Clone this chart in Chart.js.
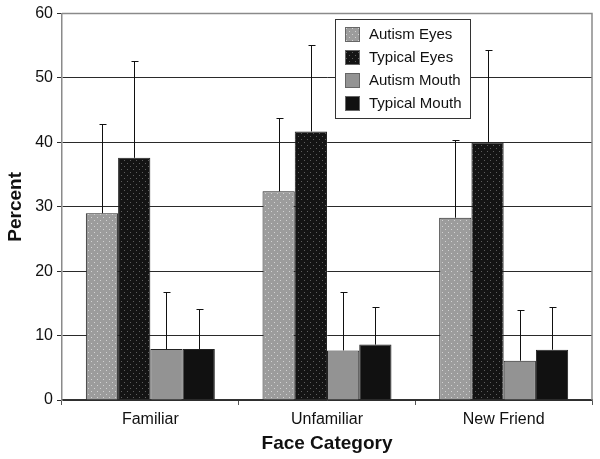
<!DOCTYPE html>
<html>
<head>
<meta charset="utf-8">
<script src="https://cdn.jsdelivr.net/npm/chart.js@4.4.0/dist/chart.umd.min.js"></script>
<style>
  html, body { margin: 0; padding: 0; background: #fff; }
  #wrap { width: 600px; height: 459px; }
</style>
</head>
<body>
<div id="wrap"><canvas id="myChart" width="600" height="459"></canvas></div>
<script>
// data
const categories = ['Familiar', 'Unfamiliar', 'New Friend'];
const seriesNames = ['Autism Eyes', 'Typical Eyes', 'Autism Mouth', 'Typical Mouth'];
const autismEyes = [29.0, 32.4, 28.3];
const typicalEyes = [37.6, 41.7, 40.0];
const autismMouth = [7.9, 7.7, 6.1];
const typicalMouth = [7.9, 8.6, 7.8];
// upper error (SD) for each bar
const autismEyesErr = [13.8, 11.4, 12.1];
const typicalEyesErr = [15.1, 13.5, 14.3];
const autismMouthErr = [8.9, 9.1, 7.8];
const typicalMouthErr = [6.3, 5.9, 6.7];

const FONT = "'Liberation Sans', Arial, sans-serif";

// small dotted fills like the print
function dots(base, dot) {
    const c = document.createElement('canvas');
    c.width = 6; c.height = 6;
    const g = c.getContext('2d');
    g.fillStyle = base;
    g.fillRect(0, 0, 6, 6);
    g.fillStyle = dot;
    g.fillRect(1, 1, 1, 1);
    g.fillRect(4, 4, 1, 1);
    return g.createPattern(c, 'repeat');
}
const ctx = document.getElementById('myChart').getContext('2d');
const fills = [
    dots('#9c9c9c', '#d2d2d2'),
    dots('#141414', '#5e5e5e'),
    '#939393',
    '#111111'
];

const values = [autismEyes, typicalEyes, autismMouth, typicalMouth];
const errs = [autismEyesErr, typicalEyesErr, autismMouthErr, typicalMouthErr];

// error bars, upper side only
const errorBars = {
    id: 'errorBars',
    afterDatasetsDraw(chart) {
        const g = chart.ctx;
        const y = chart.scales.y;
        g.save();
        g.strokeStyle = '#111';
        g.lineWidth = 1;
        chart.data.datasets.forEach((ds, i) => {
            const meta = chart.getDatasetMeta(i);
            meta.data.forEach((bar, j) => {
                const top = Math.round(y.getPixelForValue(ds.data[j] + ds.err[j])) + 0.5;
                const x = Math.round(bar.x) + 0.5;
                g.beginPath();
                g.moveTo(x, bar.y);
                g.lineTo(x, top);
                g.moveTo(x - 3, top);
                g.lineTo(x + 4, top);
                g.stroke();
            });
        });
        g.restore();
    }
};

// boxed legend sitting inside the plot
const boxLegend = {
    id: 'boxLegend',
    afterDraw(chart) {
        const g = chart.ctx;
        const left = 335.5, top = 19.5, w = 135, h = 99;
        g.save();
        g.fillStyle = '#fff';
        g.fillRect(left, top, w, h);
        g.strokeStyle = '#333';
        g.lineWidth = 1;
        g.strokeRect(left, top, w, h);
        g.font = '15px ' + FONT;
        g.textBaseline = 'middle';
        chart.data.datasets.forEach((ds, i) => {
            const cy = 34 + i * 23;
            g.fillStyle = ds.backgroundColor;
            g.fillRect(345, cy - 7, 15, 15);
            g.strokeStyle = '#666';
            g.strokeRect(345.5, cy - 6.5, 14, 14);
            g.fillStyle = '#111';
            g.fillText(ds.label, 369, cy + 1);
        });
        g.restore();
    }
};

// frame round the plot area
const frame = {
    id: 'frame',
    beforeDatasetsDraw(chart) {
        const a = chart.chartArea;
        const g = chart.ctx;
        g.save();
        g.strokeStyle = '#8a8a8a';
        g.lineWidth = 1.5;
        g.beginPath();
        g.moveTo(a.left, a.top);
        g.lineTo(a.right, a.top);
        g.lineTo(a.right, a.bottom);
        g.stroke();
        g.restore();
    }
};

let barChart = new Chart(ctx, {
    type: 'bar',
    data: {
        labels: categories,
        datasets: seriesNames.map((name, i) => ({
            label: name,
            data: values[i],
            err: errs[i],
            backgroundColor: fills[i],
            borderColor: '#222',
            borderWidth: 1,
            barPercentage: 1,
            categoryPercentage: 0.73
        }))
    },
    options: {
        responsive: false,
        animation: false,
        layout: { padding: { top: 12, right: 8, left: 0, bottom: 0 } },
        plugins: {
            legend: { display: false },
            tooltip: { enabled: false }
        },
        scales: {
            x: {
                grid: {
                    offset: true,
                    drawOnChartArea: false,
                    tickLength: 5,
                    color: '#555'
                },
                border: { color: '#333', width: 1.5 },
                ticks: {
                    font: { family: FONT, size: 16 },
                    color: '#111',
                    padding: 5
                },
                title: {
                    display: true,
                    text: 'Face Category',
                    font: { family: FONT, size: 19, weight: 'bold' },
                    color: '#111',
                    padding: { top: 7 }
                },
                afterFit(scale) { scale.height = 59; }
            },
            y: {
                min: 0,
                max: 60,
                ticks: {
                    stepSize: 10,
                    font: { family: FONT, size: 16 },
                    color: '#111',
                    padding: 4
                },
                grid: {
                    color: '#2a2a2a',
                    lineWidth: 1,
                    tickLength: 5
                },
                border: { color: '#8a8a8a', width: 1.5 },
                title: {
                    display: true,
                    text: 'Percent',
                    font: { family: FONT, size: 19, weight: 'bold' },
                    color: '#111',
                    padding: { bottom: 2 }
                },
                afterFit(scale) { scale.width = 62; }
            }
        }
    },
    plugins: [frame, errorBars, boxLegend]
});
</script>
</body>
</html>
